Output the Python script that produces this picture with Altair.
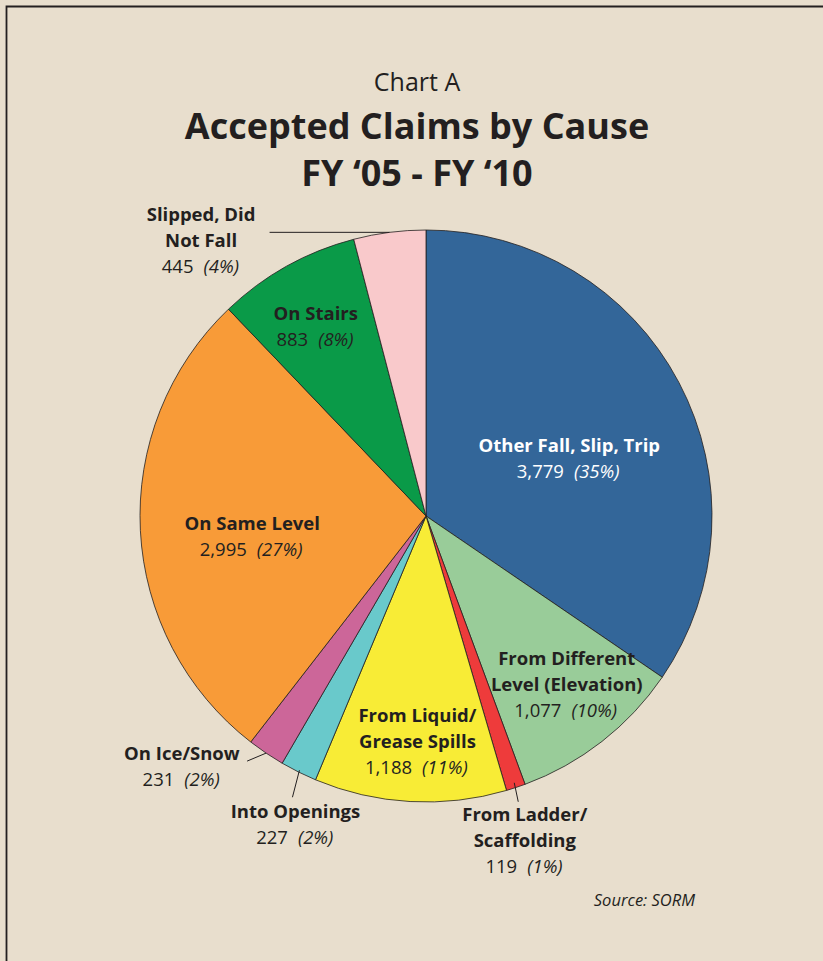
import altair as alt
import numpy as np
import pandas as pd

# ---------------- data ----------------
causes = ["Other Fall, Slip, Trip", "From Different Level (Elevation)", "From Ladder/Scaffolding",
          "From Liquid/Grease Spills", "Into Openings", "On Ice/Snow", "On Same Level",
          "On Stairs", "Slipped, Did Not Fall"]
values = [3779, 1077, 119, 1188, 227, 231, 2995, 883, 445]
percents = [35, 10, 1, 11, 2, 2, 27, 8, 4]
name_lines = [["Other Fall, Slip, Trip"], ["From Different", "Level (Elevation)"],
              ["From Ladder/", "Scaffolding"], ["From Liquid/", "Grease Spills"],
              ["Into Openings"], ["On Ice/Snow"], ["On Same Level"], ["On Stairs"],
              ["Slipped, Did", "Not Fall"]]
colors = ["#336699", "#99CC99", "#EE3B3B", "#F8EC36", "#69C9CB", "#CC6699",
          "#F89B38", "#0A9A48", "#F9C9CB"]
label_colors = ["#FFFFFF"] + ["#231F20"] * 8

# ---------------- layout ----------------
W, H = 823, 961
CX, CY, R = 426, 516, 286
INK = "#231F20"
BG = "#E8DECD"
FONT = "Open Sans"
NAME_SIZE = 18.5
NUM_SIZE = 18.5
LINE_H = 26
# label block placement: radius along slice mid-angle, plus nudge
label_r = [136, 219, 340, 226, 340, 340, 167, 216, 290]
label_dx = [23, 6, -8, 4, 21, -54, -7, -5, -188]
label_dy = [7, -4, 2, 0, 5, -31, 12, 0, 13]
# leader lines: (start radius, end dx, end dy from start) for outside labels
leaders = {2: (281, 4, 19), 4: (284, -7, 27), 5: (286, -19, 8), 8: (286, -120, 0)}

vals = np.array(values, dtype=float)
total = vals.sum()
mid = (np.cumsum(vals) - vals / 2) / total * 2 * np.pi

# approximate Open Sans advance widths (em)
def text_w(s, size, italic=False):
    w = 0.0
    for ch in s:
        if ch.isdigit():
            w += 0.55
        elif ch == ",":
            w += 0.24
        elif ch in "()":
            w += 0.29
        elif ch == "%":
            w += 0.80 if italic else 0.84
        elif ch == " ":
            w += 0.26
        else:
            w += 0.55
    return w * size

GAP = 10
rows_name, rows_num, rows_pct = [], [], []
for i, c in enumerate(causes):
    bx = CX + label_r[i] * np.sin(mid[i]) + label_dx[i]
    by = CY - label_r[i] * np.cos(mid[i]) + label_dy[i]
    lines = name_lines[i]
    n = len(lines) + 1
    y0 = by - (n - 1) / 2 * LINE_H
    for k, ln in enumerate(lines):
        rows_name.append({"x": bx, "y": y0 + k * LINE_H, "t": ln, "col": label_colors[i]})
    num_s = f"{values[i]:,}"
    pct_s = f"({percents[i]}%)"
    wn = text_w(num_s, NUM_SIZE)
    wp = text_w(pct_s, NUM_SIZE, True)
    left = bx - (wn + GAP + wp) / 2
    yn = y0 + (n - 1) * LINE_H
    rows_num.append({"x": left + wn, "y": yn, "t": num_s, "col": label_colors[i]})
    rows_pct.append({"x": left + wn + GAP, "y": yn, "t": pct_s, "col": label_colors[i]})

rows_lead = []
for i, (r0, ex, ey) in leaders.items():
    x0 = CX + r0 * np.sin(mid[i])
    y0 = CY - r0 * np.cos(mid[i])
    rows_lead.append({"x": x0, "y": y0, "x2": x0 + ex, "y2": y0 + ey})

df = pd.DataFrame({"cause": causes, "value": values, "order": list(range(len(causes)))})

pie = alt.Chart(df).mark_arc(radius=R, stroke=INK, strokeWidth=0.8).encode(
    theta=alt.Theta("value:Q", stack=True),
    order=alt.Order("order:Q"),
    color=alt.Color("cause:N", scale=alt.Scale(domain=causes, range=colors), legend=None),
    x=alt.value(CX),
    y=alt.value(CY),
)

def txt(rows, **kw):
    return alt.Chart(pd.DataFrame(rows)).mark_text(font=FONT, baseline="middle", **kw).encode(
        x=alt.X("x:Q", scale=None),
        y=alt.Y("y:Q", scale=None),
        text="t:N",
        color=alt.Color("col:N", scale=None),
    )

names = txt(rows_name, fontWeight="bold", fontSize=NAME_SIZE, align="center")
nums = txt(rows_num, fontSize=NUM_SIZE, align="right")
pcts = txt(rows_pct, fontSize=NUM_SIZE, fontStyle="italic", align="left")

leads = alt.Chart(pd.DataFrame(rows_lead)).mark_rule(color=INK, strokeWidth=1).encode(
    x=alt.X("x:Q", scale=None), y=alt.Y("y:Q", scale=None),
    x2="x2:Q", y2="y2:Q",
)

title_rows = pd.DataFrame({
    "t": ["Chart A", "Accepted Claims by Cause", "FY \u201805 - FY \u201810"],
})
t1 = alt.Chart(title_rows.iloc[[0]]).mark_text(font=FONT, fontSize=25, color=INK, baseline="middle").encode(
    x=alt.value(417), y=alt.value(83), text="t:N")
t2 = alt.Chart(title_rows.iloc[[1]]).mark_text(font=FONT, fontSize=36, fontWeight="bold", color=INK, baseline="middle").encode(
    x=alt.value(417), y=alt.value(128), text="t:N")
t3 = alt.Chart(title_rows.iloc[[2]]).mark_text(font=FONT, fontSize=36, fontWeight="bold", color=INK, baseline="middle").encode(
    x=alt.value(417), y=alt.value(175), text="t:N")
src = alt.Chart(pd.DataFrame({"t": ["Source: SORM"]})).mark_text(
    font=FONT, fontSize=16.5, fontStyle="italic", color=INK, align="right", baseline="middle").encode(
    x=alt.value(695), y=alt.value(901), text="t:N")

frame = alt.Chart(pd.DataFrame({"a": [0]})).mark_rect(filled=False, stroke=INK, strokeWidth=1.8).encode(
    x=alt.value(6.5), x2=alt.value(W + 20), y=alt.value(6.5), y2=alt.value(H + 20))

chart = alt.layer(frame, pie, leads, names, nums, pcts, t1, t2, t3, src).properties(
    width=W, height=H, autosize=alt.AutoSizeParams(type="none"), padding=0,
    background=BG,
).configure_view(stroke=None)

chart.save("out.html", embed_options={"renderer": "svg", "actions": False})
